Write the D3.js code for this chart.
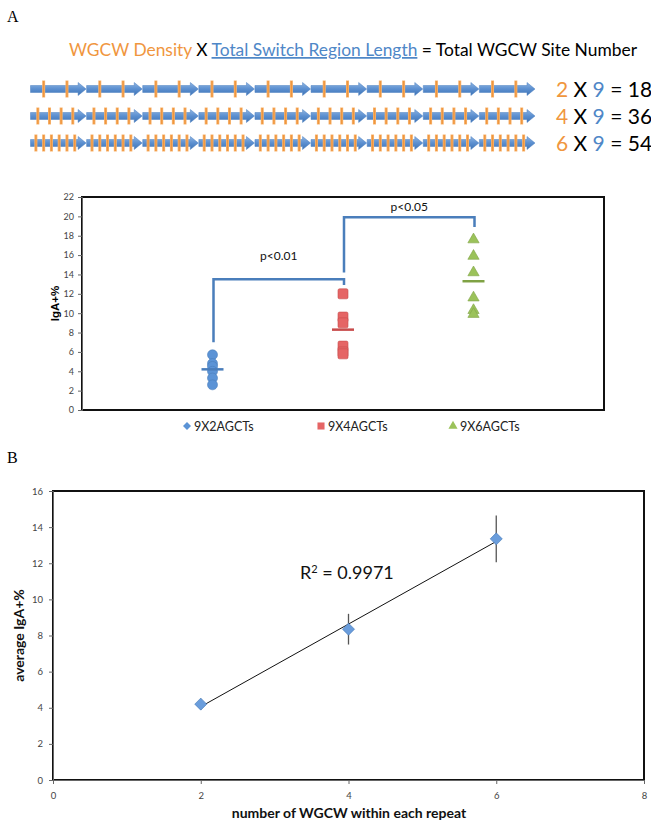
<!DOCTYPE html>
<html><head><meta charset="utf-8">
<script src="https://cdn.jsdelivr.net/npm/d3@7"></script>
<style>body{margin:0;background:#fff}svg{display:block}text{font-family:Lato,"Open Sans",sans-serif}</style>
</head><body>
<svg id="c" width="651" height="828"></svg>
<script>
// ---------- DATA ----------
const densities = [2, 4, 6];           // WGCW per repeat
const repeats = 9;                     // switch region length
const groups = ["9X2AGCTs", "9X4AGCTs", "9X6AGCTs"];
const groupValues = [
  [5.7, 4.8, 4.5, 4.0, 3.3, 2.6],
  [12.0, 9.6, 9.0, 6.6, 6.0, 5.8],
  [17.6, 15.9, 14.2, 11.6, 10.3, 9.9]
];
const groupMeans = [4.2, 8.3, 13.3];
const pTexts = ["p<0.01", "p<0.05"];
const bracketLevels = [[7.0, 13.5, 12.9], [14.2, 19.9, 18.9]]; // start, top, end
const yTicksA = [0, 2, 4, 6, 8, 10, 12, 14, 16, 18, 20, 22];

const wgcwX = [2, 4, 6];
const avgIgA = [4.2, 8.35, 13.35];
const errIgA = [0.3, 0.85, 1.3];
const r2Text = "0.9971";
const xTicksB = [0, 2, 4, 6, 8];
const yTicksB = [0, 2, 4, 6, 8, 10, 12, 14, 16];

const svg = d3.select("#c");
const orange = "#f0963e", blue = "#4f87c7", gray = "#666";

// ---------- Panel labels ----------
svg.append("text").attr("x", 7).attr("y", 22).text("A")
  .style("font-family", "'Liberation Serif',serif").style("font-size", "16px");
svg.append("text").attr("x", 7).attr("y", 463).text("B")
  .style("font-family", "'Liberation Serif',serif").style("font-size", "16px");

// ---------- Title ----------
const title = svg.append("text").attr("x", 69).attr("y", 56).style("font-size", "17.4px");
title.append("tspan").attr("fill", orange).text("WGCW Density");
title.append("tspan").attr("fill", "#000").text(" X ");
title.append("tspan").attr("fill", blue).attr("text-decoration", "underline").text("Total Switch Region Length");
title.append("tspan").attr("fill", "#000").text(" = Total WGCW Site Number");

// ---------- Arrow diagram ----------
const segX = d3.scaleLinear().domain([0, repeats]).range([30, 535]);
const rowY = d3.scalePoint().domain(densities).range([89, 143]);
const defs = svg.append("defs");
const lg = defs.append("linearGradient").attr("id", "ag").attr("x1", 0).attr("x2", 0).attr("y1", 0).attr("y2", 1);
lg.append("stop").attr("offset", "0").attr("stop-color", "#8db4e2");
lg.append("stop").attr("offset", "0.5").attr("stop-color", "#5b8fd0");
lg.append("stop").attr("offset", "1").attr("stop-color", "#3f74b5");
densities.forEach(d => {
  const y = rowY(d);
  const g = svg.append("g");
  d3.range(repeats).forEach(j => {
    const x0 = segX(j) + 0.5, x1 = segX(j + 1);
    g.append("path").attr("d",
      `M${x0},${y - 3.5}L${x1 - 8},${y - 3.5}L${x1 - 8},${y - 6.5}L${x1},${y}L${x1 - 8},${y + 6.5}L${x1 - 8},${y + 3.5}L${x0},${y + 3.5}Z`)
      .attr("fill", "url(#ag)").attr("stroke", "#4a7fc0").attr("stroke-width", 0.5);
    const bw = (x1 - x0) - 9;
    d3.range(d).forEach(k => {
      const tx = x0 + 1.5 + (k + 0.5) * bw / d;
      g.append("line").attr("x1", tx).attr("x2", tx).attr("y1", y - 8.5).attr("y2", y + 8.5)
        .attr("stroke", "#f6b36e").attr("stroke-width", 3);
      g.append("line").attr("x1", tx).attr("x2", tx).attr("y1", y - 8).attr("y2", y + 8)
        .attr("stroke", orange).attr("stroke-width", 1.4);
    });
  });
  const t = svg.append("text").attr("x", 556).attr("y", y + 8).style("font-size", "21px");
  t.append("tspan").attr("fill", orange).text(d);
  t.append("tspan").attr("fill", "#000").text(" X ");
  t.append("tspan").attr("fill", blue).text(repeats);
  t.append("tspan").attr("fill", "#000").text(" = " + d * repeats);
});

// diamond path helper (square rotated 45°)
const diamond = s => `M0,${-s}L${s},0L0,${s}L${-s},0Z`;

// ---------- Panel A chart ----------
const xA = d3.scaleLinear().domain([0, 4]).range([82, 604]);
const yA = d3.scaleLinear().domain([0, 22]).range([410, 197]);
svg.append("rect").attr("x", xA(0)).attr("y", yA(22)).attr("width", xA(4) - xA(0)).attr("height", yA(0) - yA(22))
  .attr("fill", "none").attr("stroke", "#111").attr("stroke-width", 2);
const axA = svg.append("g").attr("transform", `translate(${xA(0)},0)`)
  .call(d3.axisLeft(yA).tickValues(yTicksA).tickSize(4).tickPadding(4));
axA.select(".domain").attr("stroke", gray);
axA.selectAll(".tick line").attr("stroke", gray);
axA.selectAll(".tick text").attr("fill", "#444").style("font-size", "9px").style("font-family", "Lato,sans-serif");
svg.append("text").attr("transform", `translate(59,${yA(11)}) rotate(-90)`).attr("text-anchor", "middle")
  .style("font-family", "'Liberation Sans',Arial,sans-serif").style("font-weight", "bold").style("font-size", "11.5px").text("IgA+%");

// brackets
bracketLevels.forEach((b, i) => {
  const xs = xA(i + 1) + 1, xe = xA(i + 2) + 1;
  svg.append("path").attr("d", `M${xs},${yA(b[0])}L${xs},${yA(b[1])}L${xe},${yA(b[1])}L${xe},${yA(b[2])}`)
    .attr("fill", "none").attr("stroke", "#4a7ebb").attr("stroke-width", 2.5);
  svg.append("text").attr("x", (xs + xe) / 2).attr("y", yA(b[1]) - (i === 0 ? 19 : 6))
    .attr("text-anchor", "middle").style("font-size", "12px").attr("fill", "#111").text(pTexts[i]);
});

const colsA = ["#5b93d6", "#e56565", "#9bc25a"];
const strokesA = ["#4a7ebb", "#c84c4c", "#7fa244"];
groupValues.forEach((vals, i) => {
  const cx = xA(i + 1);
  const g = svg.append("g");
  vals.forEach(v => {
    const cy = yA(v);
    if (i === 0) g.append("circle").attr("cx", cx).attr("cy", cy).attr("r", 5).attr("fill", colsA[0]).attr("stroke", strokesA[0]).attr("stroke-width", 0.6);
    if (i === 1) g.append("rect").attr("x", cx - 5).attr("y", cy - 5).attr("width", 10).attr("height", 10).attr("rx", 1.5)
      .attr("fill", colsA[1]).attr("stroke", strokesA[1]).attr("stroke-width", 0.6);
    if (i === 2) g.append("path").attr("d", d3.symbol(d3.symbolTriangle, 55)()).attr("transform", `translate(${cx},${cy})`)
      .attr("fill", colsA[2]).attr("stroke", strokesA[2]).attr("stroke-width", 0.6);
  });
  svg.append("line").attr("x1", cx - 11).attr("x2", cx + 11).attr("y1", yA(groupMeans[i])).attr("y2", yA(groupMeans[i]))
    .attr("stroke", strokesA[i]).attr("stroke-width", 2.5);
});

// legend
const legX = [187, 321, 453];
groups.forEach((name, i) => {
  const lx = legX[i], ly = 426;
  const mark = svg.append("path").attr("transform", `translate(${lx},${ly})`).attr("fill", colsA[i]);
  if (i === 0) mark.attr("d", diamond(4));
  else mark.attr("d", d3.symbol(i === 1 ? d3.symbolSquare : d3.symbolTriangle, i === 1 ? 50 : 36)());
  svg.append("text").attr("x", lx + 7).attr("y", ly + 4.5).style("font-size", "12.5px").attr("fill", "#222").text(name);
});

// ---------- Panel B ----------
const xB = d3.scaleLinear().domain([0, 8]).range([53, 644]);
const yB = d3.scaleLinear().domain([0, 16]).range([780, 491]);
svg.append("rect").attr("x", xB(0)).attr("y", yB(16)).attr("width", xB(8) - xB(0)).attr("height", yB(0) - yB(16))
  .attr("fill", "none").attr("stroke", "#111").attr("stroke-width", 2);
const axBy = svg.append("g").attr("transform", `translate(${xB(0)},0)`)
  .call(d3.axisLeft(yB).tickValues(yTicksB).tickSize(4).tickPadding(6));
const axBx = svg.append("g").attr("transform", `translate(0,${yB(0)})`)
  .call(d3.axisBottom(xB).tickValues(xTicksB).tickSize(4).tickPadding(8));
[axBy, axBx].forEach(a => {
  a.select(".domain").attr("stroke", gray);
  a.selectAll(".tick line").attr("stroke", gray);
  a.selectAll(".tick text").attr("fill", "#444").style("font-size", "9.5px").style("font-family", "Lato,sans-serif");
});
svg.append("text").attr("x", 349).attr("y", 818).attr("text-anchor", "middle")
  .style("font-size", "14px").style("font-weight", "bold").attr("fill", "#111").text("number of WGCW within each repeat");
svg.append("text").attr("transform", `translate(24,${yB(8)}) rotate(-90)`).attr("text-anchor", "middle")
  .style("font-size", "14px").style("font-weight", "bold").attr("fill", "#111").text("average IgA+%");

// trendline (least squares)
const mx = d3.mean(wgcwX), my = d3.mean(avgIgA);
const slope = d3.sum(wgcwX, (x, i) => (x - mx) * (avgIgA[i] - my)) / d3.sum(wgcwX, x => (x - mx) ** 2);
const icpt = my - slope * mx;
const x0 = d3.min(wgcwX), x1 = d3.max(wgcwX);
svg.append("line").attr("x1", xB(x0)).attr("y1", yB(icpt + slope * x0)).attr("x2", xB(x1)).attr("y2", yB(icpt + slope * x1))
  .attr("stroke", "#111").attr("stroke-width", 1);

wgcwX.forEach((x, i) => {
  svg.append("line").attr("x1", xB(x)).attr("x2", xB(x)).attr("y1", yB(avgIgA[i] - errIgA[i])).attr("y2", yB(avgIgA[i] + errIgA[i]))
    .attr("stroke", "#555").attr("stroke-width", 1.3);
  svg.append("path").attr("d", diamond(6)).attr("transform", `translate(${xB(x)},${yB(avgIgA[i])})`)
    .attr("fill", "#6a9ddc").attr("stroke", "#4a7ebb").attr("stroke-width", 0.7).attr("stroke-linejoin", "round");
});

const r2 = svg.append("text").attr("x", 300).attr("y", 579).style("font-size", "18px").attr("fill", "#111");
r2.append("tspan").text("R");
r2.append("tspan").attr("dy", -6).style("font-size", "11px").text("2");
r2.append("tspan").attr("dy", 6).text(" = " + r2Text);
</script>
</body></html>
